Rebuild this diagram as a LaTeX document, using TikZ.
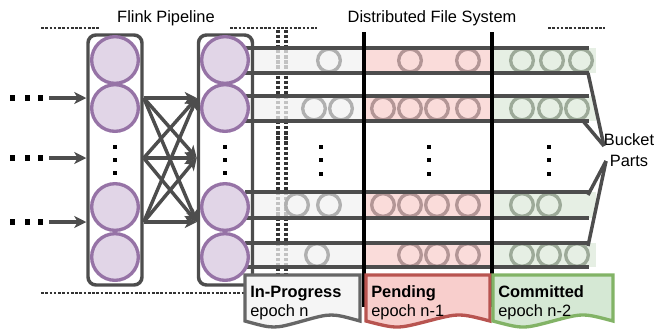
\documentclass[tikz,border=0pt]{standalone}
\usepackage{fontspec}
\setmainfont{Liberation Sans}
\usetikzlibrary{arrows.meta}
\definecolor{dk}{HTML}{4D4D4D}
\definecolor{dotc}{HTML}{333333}
\definecolor{purf}{HTML}{E1D5E7}
\definecolor{purs}{HTML}{9673A6}
\definecolor{ipfill}{HTML}{F2F2F2}
\definecolor{pefill}{HTML}{F8D0CE}
\definecolor{cofill}{HTML}{DDEADB}
\definecolor{ipc}{HTML}{B0B0B0}
\definecolor{pec}{HTML}{B39696}
\definecolor{coc}{HTML}{9DAA99}
\definecolor{ipns}{HTML}{666666}
\definecolor{ipnf}{HTML}{F5F5F5}
\definecolor{pens}{HTML}{B85450}
\definecolor{penf}{HTML}{F8CECC}
\definecolor{cons}{HTML}{82B366}
\definecolor{conf}{HTML}{D5E8D4}
\begin{document}
\begin{tikzpicture}[x=0.75pt,y=-0.75pt,
  font=\fontsize{12.3}{14}\selectfont,
  thk/.style={line width=2.6pt, draw=dk},
  colbox/.style={thk, rounded corners=6pt, minimum width=40.5pt, minimum height=187.5pt, inner sep=0},
  bigc/.style={circle, draw=purs, fill=purf, line width=2.5pt, minimum size=35pt, inner sep=0},
  smc/.style={circle, line width=2.5pt, minimum size=17pt, inner sep=0},
  ipcirc/.style={smc, draw=ipc},
  pecirc/.style={smc, draw=pec},
  cocirc/.style={smc, draw=coc},
  arr/.style={thk, -{Stealth[length=9pt,width=9pt,inset=2.5pt]}},
  dotl/.style={draw=dotc, line width=2pt, dash pattern=on 2pt off 1.2pt},
  dotv/.style={draw=dotc, line width=2.4pt, dash pattern=on 2.4pt off 1.4pt},
  rowfill/.style={fill opacity=0.75},
  bline/.style={draw=black, line width=2.6pt},
  sq/.style={fill=black}
]
\useasboundingbox (0,0) rectangle (655,333);

% titles
\node[anchor=base, inner sep=0] (t1) at (166,22) {Flink Pipeline};
\node[anchor=base, inner sep=0] (t2) at (432,22) {Distributed File System};

% dotted separators
\draw[dotl] (41,28) -- (99,28);
\draw[dotl] (230,28) -- (317,28);
\draw[dotl] (548,28) -- (605,28);
\draw[dotl] (41,293) -- (246,293);
\draw[dotv] (278,30) -- (278,290);
\draw[dotv] (286,30) -- (286,290);

% rows: fills
\foreach \t/\b in {48/73, 96/121, 192/218, 243/267}{
  \fill[ipfill, rowfill] (250,\t) rectangle (364,\b);
  \fill[pefill, rowfill] (366,\t) rectangle (491,\b);
  \fill[cofill, rowfill] (494,\t) rectangle (596,\b);
}

% row circles
\foreach \x [count=\i] in {329}{\node[ipcirc] (ia\i) at (\x,60.5) {};}
\foreach \x [count=\i] in {410,468}{\node[pecirc] (pa\i) at (\x,60.5) {};}
\foreach \x [count=\i] in {522,552,581}{\node[cocirc] (ca\i) at (\x,60.5) {};}

\foreach \x [count=\i] in {314,341}{\node[ipcirc] (ib\i) at (\x,108.5) {};}
\foreach \x [count=\i] in {383,410,437,468}{\node[pecirc] (pb\i) at (\x,108.5) {};}
\foreach \x [count=\i] in {522,550,577}{\node[cocirc] (cb\i) at (\x,108.5) {};}

\foreach \x [count=\i] in {297,329}{\node[ipcirc] (ic\i) at (\x,205) {};}
\foreach \x [count=\i] in {383,410,437,468}{\node[pecirc] (pc\i) at (\x,205) {};}
\foreach \x [count=\i] in {522,549}{\node[cocirc] (cc\i) at (\x,205) {};}

\foreach \x [count=\i] in {317}{\node[ipcirc] (id\i) at (\x,255) {};}
\foreach \x [count=\i] in {410,437,468}{\node[pecirc] (pd\i) at (\x,255) {};}
\foreach \x [count=\i] in {522,549,577}{\node[cocirc] (cd\i) at (\x,255) {};}

% row lines
\foreach \y in {48,73,96,121,192,218,243,267}{
  \draw[thk] (245,\y) -- (589,\y);
}

% vertical black lines
\draw[bline] (364,32) -- (364,307);
\draw[bline] (492,32) -- (492,307);

% dots in rows
\foreach \x in {321,429,549}{
  \foreach \y in {147,160,174}{
    \fill[sq] (\x-2.4,\y-2.4) rectangle (\x+2.4,\y+2.4);
  }
}

% columns
\node[colbox] (lb) at (115,160) {};
\node[colbox] (rb) at (225.5,160) {};
\foreach \y [count=\i] in {60,108,207,257}{
  \node[bigc] (l\i) at (115,\y) {};
  \node[bigc] (r\i) at (225,\y) {};
}
\foreach \x in {115,225}{
  \foreach \y in {147,160,173}{
    \fill[sq] (\x-2.4,\y-2.4) rectangle (\x+2.4,\y+2.4);
  }
}

% input dots and arrows
\foreach \y [count=\i] in {98,158,222}{
  \foreach \x in {12.5,27.5,40.5}{
    \fill[sq] (\x-2.6,\y-2.6) rectangle (\x+2.6,\y+2.6);
  }
  \coordinate (in\i) at (49,\y);
  \draw[arr] (in\i) -- (in\i -| lb.west);
}

% crossing arrows
\foreach \a in {98,158,222}{
  \foreach \b in {98,158,222}{
    \draw[arr] (lb.east |- 0,\a) -- (rb.west |- 0,\b);
  }
}

% bucket parts
\node[align=center, inner sep=0, font=\fontsize{12.3}{16}\selectfont] (bp) at (629,150) {Bucket\\Parts};
\coordinate (bt) at (604,146);
\coordinate (bb) at (606,161);
\draw[thk] (588,73) -- (bt);
\draw[thk] (583,121) -- (bt);
\draw[thk] (588,195) -- (bb);
\draw[thk] (588,246) -- (bb);

% notes
\foreach \xa/\xb/\sc/\fc/\nm/\ep in {245/360/ipns/ipnf/In-Progress/epoch n, 366/490/pens/penf/Pending/epoch n-1, 493/613/cons/conf/Committed/epoch n-2}{
  \draw[line width=2.5pt, draw=\sc, fill=\fc]
    (\xa,275) -- (\xb,275) -- (\xb,321)
    .. controls ({\xb-(\xb-\xa)/4},313) .. ({(\xa+\xb)/2},321)
    .. controls ({\xa+(\xb-\xa)/4},329) .. (\xa,321) -- cycle;
  \node[anchor=base west, inner sep=0, font=\fontsize{12.3}{14}\selectfont\bfseries] at (\xa+5,297) {\nm};
  \node[anchor=base west, inner sep=0] at (\xa+5,316) {\ep};
}
\end{tikzpicture}
\end{document}
